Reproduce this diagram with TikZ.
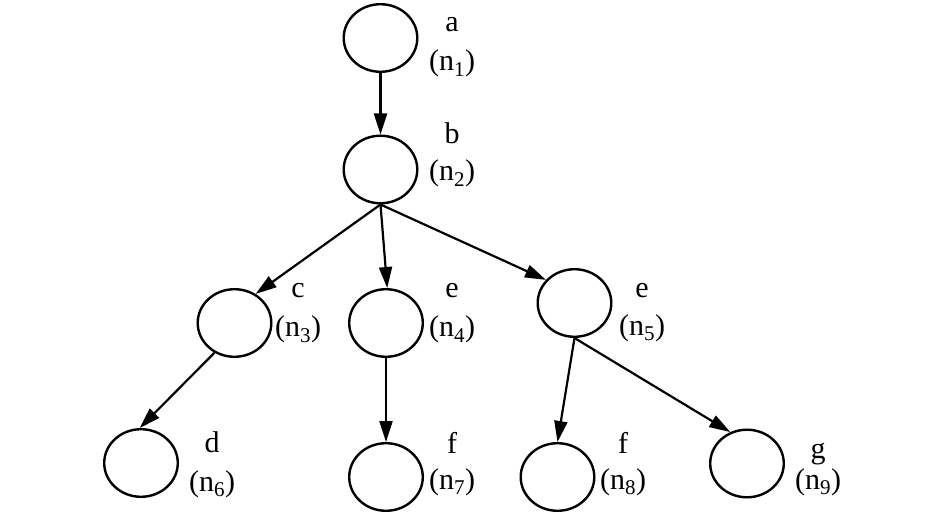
\documentclass[tikz,border=0pt]{standalone}
\usepackage{fontspec}
\setmainfont{Liberation Serif}
\usetikzlibrary{shapes.geometric,arrows.meta}
\begin{document}
\begin{tikzpicture}[x=1pt,y=-1pt,
  vert/.style={ellipse,draw,line width=2.4pt,minimum width=73.6pt,minimum height=67.6pt,inner sep=0pt},
  lab/.style={anchor=base,inner sep=0pt,font=\fontsize{30}{35}\selectfont},
  edge/.style={line width=2.2pt,-{Triangle[length=21pt,width=13pt]}}]
\useasboundingbox (0,0) rectangle (946,513);
\node[vert] (n1) at (380.5,38) {};
\node[vert] (n2) at (380.5,169.5) {};
\node[vert] (n3) at (234.5,323) {};
\node[vert] (n4) at (386,323) {};
\node[vert] (n5) at (574.5,303) {};
\node[vert] (n6) at (141,463) {};
\node[vert] (n7) at (386,477) {};
\node[vert] (n8) at (557.5,477) {};
\node[vert] (n9) at (747,463.5) {};
% labels
\node[lab] (l1) at (452,32) {a};
\node[lab] (m1) at (452,71) {(n\textsubscript{1})};
\node[lab] (l2) at (452,144) {b};
\node[lab] (m2) at (452,181) {(n\textsubscript{2})};
\node[lab] (l3) at (298,298) {c};
\node[lab] (m3) at (298,337) {(n\textsubscript{3})};
\node[lab] (l4) at (452,298) {e};
\node[lab] (m4) at (452,337) {(n\textsubscript{4})};
\node[lab] (l5) at (642,298) {e};
\node[lab] (m5) at (642,335) {(n\textsubscript{5})};
\node[lab] (l6) at (212,452) {d};
\node[lab] (m6) at (212,491) {(n\textsubscript{6})};
\node[lab] (l7) at (452,453) {f};
\node[lab] (m7) at (452,489) {(n\textsubscript{7})};
\node[lab] (l8) at (623,453) {f};
\node[lab] (m8) at (623,489) {(n\textsubscript{8})};
\node[lab] (l9) at (818,458) {g};
\node[lab] (m9) at (818,489) {(n\textsubscript{9})};
% edges
\draw[edge] (n1.south) -- (n2.north);
\draw[edge] (n2.south) -- (n3.54);
\draw[edge] (n2.south) -- (n4.88);
\draw[edge] (n2.south) -- (n5.141);
\draw[edge] (n3.236) -- (n6.92);
\draw[edge] (n4.south) -- (n7.north);
\draw[edge] (n5.south) -- (n8.north);
\draw[edge] (n5.south) -- (n9.118);
\end{tikzpicture}
\end{document}
